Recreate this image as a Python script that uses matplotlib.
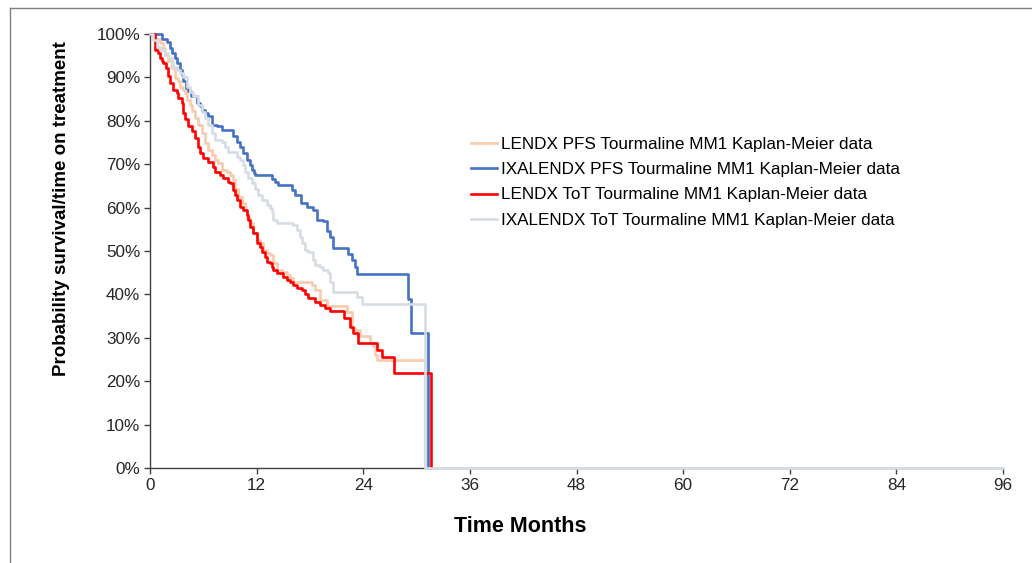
import numpy as np
import matplotlib
matplotlib.use("Agg")
from matplotlib import pyplot as plt
from matplotlib.lines import Line2D
from matplotlib.ticker import FuncFormatter

plt.rcParams["font.family"] = ["Liberation Sans", "DejaVu Sans"]

# Kaplan-Meier step data: months, percent
len_pfs_t = [0, 0.6, 1.13, 1.5, 1.69, 2.06, 2.44, 2.81, 3.19, 3.38,
             3.75, 3.94, 4.13, 4.5, 4.69, 5.06, 5.44, 5.82, 6.19, 6.56,
             6.94, 7.32, 7.69, 8.07, 8.63, 9.0, 9.38, 9.57, 9.94, 10.32,
             10.69, 10.88, 11.25, 11.63, 12.0, 12.38, 12.75, 13.13, 13.5, 13.88,
             14.26, 14.82, 15.39, 15.76, 16.13, 18.2, 18.57, 19.13, 19.89, 22.14,
             22.7, 23.07, 23.64, 24.76, 25.13, 25.32, 25.52, 31.0]
len_pfs_v = [100, 98.9, 97.9, 96.8, 95.2, 93.7, 92.2, 89.9, 89.1, 87.9,
             87.2, 86.4, 84.9, 83.7, 82.2, 80.6, 79.1, 77.2, 74.8, 73.3,
             72.1, 71.0, 70.2, 68.7, 68.3, 67.5, 66.4, 64.4, 62.5, 61.0,
             59.4, 57.5, 56.4, 54.1, 52.5, 51.8, 50.2, 49.5, 49.1, 47.2,
             45.6, 45.2, 44.5, 43.7, 42.9, 42.2, 41.0, 38.7, 37.3, 36.0,
             32.2, 31.8, 30.3, 28.7, 28.0, 26.0, 24.9, 0]

ixa_pfs_t = [0, 1.3, 1.9, 2.25, 2.45, 2.8, 3.0, 3.4, 3.55, 3.75,
             4.1, 4.3, 4.6, 5.25, 5.6, 5.8, 6.2, 6.55, 6.95, 7.5,
             8.05, 9.35, 9.75, 10.15, 10.5, 10.9, 11.25, 11.45, 11.65, 11.85,
             13.7, 14.05, 14.45, 15.95, 16.3, 17.05, 17.65, 18.4, 18.75, 19.5,
             19.9, 20.25, 20.65, 22.3, 22.7, 23.05, 23.25, 29.0, 29.35, 31.3]
ixa_pfs_v = [100, 98.9, 98.1, 96.8, 95.6, 94.5, 93.3, 91.8, 90.6, 89.1,
             87.6, 86.9, 85.6, 84.1, 83.3, 82.6, 81.8, 81.0, 79.1, 78.7,
             77.9, 76.4, 75.2, 74.0, 72.5, 71.0, 69.8, 68.7, 67.9, 67.5,
             66.6, 65.9, 65.2, 64.1, 62.9, 61.0, 60.2, 59.4, 57.1, 56.8,
             54.5, 53.3, 50.7, 49.3, 47.9, 46.4, 44.7, 38.9, 31.2, 0]

len_tot_t = [0, 0.6, 0.93, 1.13, 1.32, 1.5, 1.77, 2.06, 2.25, 2.62,
             3.0, 3.19, 3.57, 3.75, 3.94, 4.31, 4.69, 5.06, 5.44, 5.63,
             6.0, 6.56, 7.12, 7.32, 7.88, 8.25, 8.81, 9.0, 9.38, 9.57,
             9.76, 10.13, 10.5, 10.88, 11.06, 11.25, 11.63, 12.0, 12.38, 12.57,
             12.94, 13.13, 13.5, 13.7, 13.88, 14.26, 15.0, 15.39, 15.76, 16.13,
             16.5, 17.07, 17.45, 17.82, 18.57, 19.13, 19.7, 20.26, 21.8, 22.5,
             22.88, 23.44, 25.52, 26.08, 27.5, 31.6]
len_tot_v = [100, 96.4, 95.6, 94.5, 93.7, 93.3, 92.2, 90.3, 88.7, 87.2,
             86.4, 85.3, 84.1, 81.8, 80.3, 78.7, 77.6, 76.0, 74.0, 72.5,
             71.4, 70.6, 69.4, 68.3, 67.5, 66.8, 66.0, 65.6, 64.1, 62.9,
             61.8, 60.2, 59.4, 58.3, 57.1, 55.6, 54.1, 51.8, 51.0, 49.8,
             48.7, 47.5, 47.2, 46.4, 45.6, 44.9, 44.1, 43.3, 42.9, 42.2,
             41.4, 41.0, 40.2, 39.1, 38.3, 37.6, 36.8, 36.2, 34.5, 32.6,
             31.0, 28.7, 27.2, 25.6, 21.8, 0]

ixa_tot_t = [0, 0.37, 0.75, 1.13, 1.69, 2.06, 2.44, 2.62, 3.0, 3.38,
             3.75, 4.13, 4.5, 4.87, 5.44, 5.82, 6.19, 6.56, 6.94, 7.32,
             8.07, 8.44, 8.81, 9.76, 10.13, 10.5, 10.69, 11.06, 11.45, 11.82,
             12.19, 12.57, 13.13, 13.5, 13.7, 13.88, 14.26, 16.13, 16.5, 16.88,
             17.07, 17.45, 17.82, 18.38, 18.57, 19.13, 19.5, 20.07, 20.26, 20.63,
             23.26, 23.83, 30.95, 96]
ixa_tot_v = [100, 98.6, 97.1, 96.3, 95.6, 94.4, 93.6, 92.5, 91.7, 90.9,
             90.2, 87.9, 86.7, 85.6, 83.6, 82.1, 80.6, 79.0, 77.1, 75.6,
             75.2, 74.0, 72.9, 71.7, 71.0, 69.8, 68.3, 66.8, 65.6, 64.4,
             62.9, 61.8, 60.6, 59.8, 59.1, 57.1, 56.5, 56.0, 54.8, 53.3,
             51.8, 50.2, 49.8, 47.9, 46.8, 46.4, 45.6, 44.9, 42.9, 40.6,
             39.5, 37.9, 0, 0]

labels = ["LENDX PFS Tourmaline MM1 Kaplan-Meier data",
          "IXALENDX PFS Tourmaline MM1 Kaplan-Meier data",
          "LENDX ToT Tourmaline MM1 Kaplan-Meier data",
          "IXALENDX ToT Tourmaline MM1 Kaplan-Meier data"]
colors = ["#F8CBAD", "#4472C4", "#FF0000", "#D6DCE5"]

x_ticks = np.arange(0, 97, 12)
y_ticks = np.arange(0, 101, 10)

W, H = 1032, 563
fig = plt.figure(figsize=(W / 100, H / 100), dpi=100)
ax = fig.add_axes([150 / W, 1 - 468 / H, (1003 - 150) / W, (468 - 34) / H])

series = [(len_pfs_t, len_pfs_v), (ixa_pfs_t, ixa_pfs_v),
          (len_tot_t, len_tot_v), (ixa_tot_t, ixa_tot_v)]
for (t, v), c, lab in zip(series, colors, labels):
    ax.step(t, v, where="post", color=c, lw=1.9, label=lab,
            clip_on=False, zorder=3)

ax.set_xlim(0, 96)
ax.set_ylim(0, 100)
ax.set_xticks(x_ticks)
ax.set_yticks(y_ticks)
ax.yaxis.set_major_formatter(FuncFormatter(lambda v, p: "%d%%" % v))

axis_col = "#404040"
for s in ["top", "right"]:
    ax.spines[s].set_visible(False)
for s in ["left", "bottom"]:
    ax.spines[s].set_color(axis_col)
    ax.spines[s].set_linewidth(1.0)
ax.tick_params(direction="out", length=4, width=1, color=axis_col,
               labelsize=12.3, labelcolor="#262626", pad=3)

fig.text(62 / W, 1 - 209 / H, "Probability survival/time on treatment",
         rotation=90, ha="center", va="center", fontsize=13.5,
         fontweight="bold")
fig.text(520 / W, 1 - 526 / H, "Time Months", ha="center", va="center",
         fontsize=15.5, fontweight="bold")

ax.legend(loc="upper left", bbox_to_anchor=(471 / W, 1 - 137 / H),
          bbox_transform=fig.transFigure, frameon=False, fontsize=12.3,
          handlelength=1.5, handletextpad=0.25, labelspacing=0.6,
          borderpad=0, borderaxespad=0)

# outer frame of the screenshot (left and top edges)
fig.add_artist(Line2D([10 / W, 10 / W], [0, 1 - 8 / H], color="#7f7f7f",
                      lw=1, transform=fig.transFigure))
fig.add_artist(Line2D([10 / W, 1], [1 - 8 / H, 1 - 8 / H], color="#7f7f7f",
                      lw=1, transform=fig.transFigure))

fig.savefig("out.png", dpi=100)
